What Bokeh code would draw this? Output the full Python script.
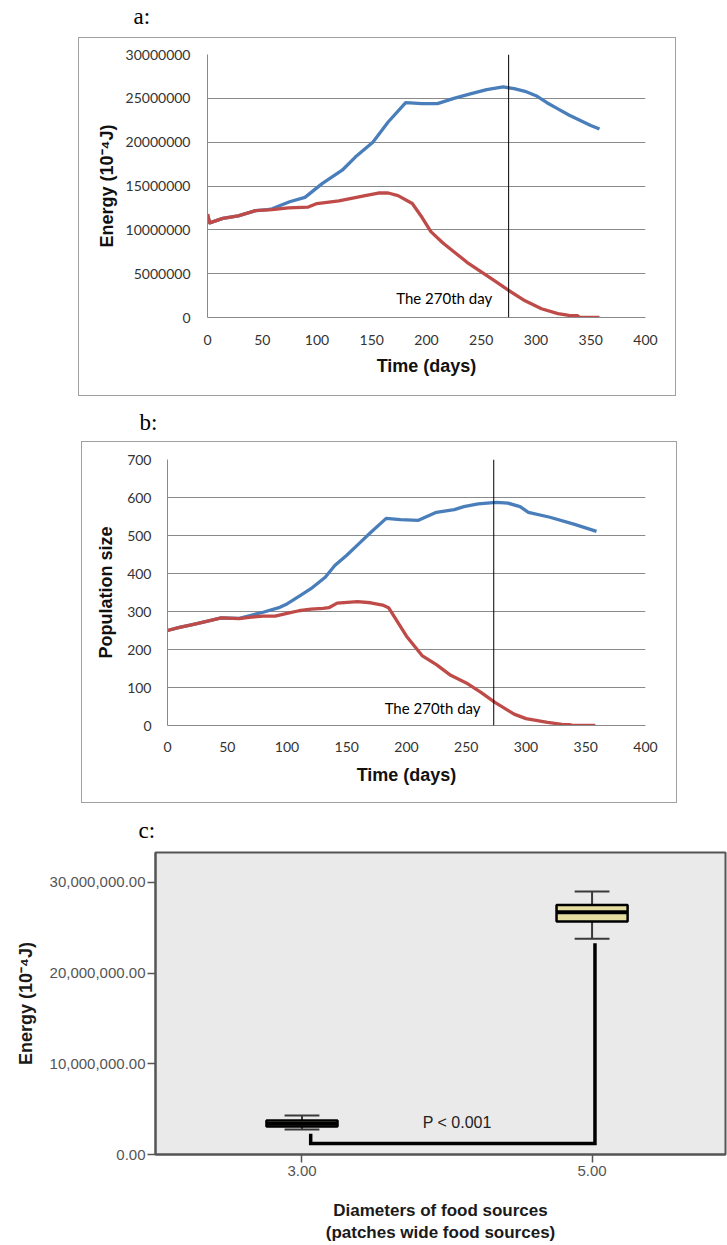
from bokeh.plotting import figure
from bokeh.layouts import column
from bokeh.models import Range1d, FixedTicker, NumeralTickFormatter, Span, Label
from bokeh.embed import file_html
from bokeh.resources import INLINE

# ---------------- data ----------------
# panel a: energy (10^-4 J) over time (days)
energy_blue_days = [0, 2, 14, 28, 44, 55, 59, 75, 89, 105, 123, 135, 151, 165, 181, 196, 210,
                    225, 240, 255, 270, 280, 290, 300, 310, 320, 330, 340, 350, 358]
energy_blue = [11.8e6, 10.8e6, 11.3e6, 11.6e6, 12.2e6, 12.3e6, 12.4e6, 13.2e6, 13.7e6, 15.3e6,
               16.8e6, 18.3e6, 20.0e6, 22.3e6, 24.5e6, 24.4e6, 24.4e6, 25.0e6, 25.5e6, 26.0e6,
               26.3e6, 26.1e6, 25.8e6, 25.3e6, 24.5e6, 23.8e6, 23.1e6, 22.5e6, 21.9e6, 21.5e6]
energy_red_days = [0, 2, 14, 28, 44, 59, 74, 92, 100, 120, 144, 156, 165, 174, 187, 196, 204,
                   215, 225, 237, 250, 262, 275, 290, 305, 320, 330, 338, 340, 358]
energy_red = [11.8e6, 10.8e6, 11.3e6, 11.6e6, 12.2e6, 12.3e6, 12.5e6, 12.6e6, 13.0e6, 13.3e6,
              13.9e6, 14.2e6, 14.2e6, 13.9e6, 13.0e6, 11.4e6, 9.8e6, 8.5e6, 7.5e6, 6.3e6,
              5.2e6, 4.2e6, 3.1e6, 1.9e6, 1.0e6, 0.45e6, 0.25e6, 0.2e6, 0.0, 0.0]

# panel b: population size over time (days)
pop_blue_days = [0, 10, 20, 30, 45, 60, 70, 80, 94, 100, 110, 120, 132, 140, 150, 160, 170, 183,
                 195, 210, 225, 240, 248, 260, 275, 285, 295, 302, 320, 340, 359]
pop_blue = [250, 258, 265, 272, 283, 282, 290, 298, 311, 320, 340, 360, 390, 421, 448, 478, 508,
            545, 542, 540, 561, 568, 576, 583, 587, 585, 576, 561, 548, 530, 511]
pop_red_days = [0, 10, 20, 30, 45, 60, 70, 80, 90, 100, 110, 120, 130, 135, 142, 159, 170, 180,
                185, 190, 200, 213, 225, 237, 250, 262, 274, 290, 300, 318, 330, 337, 340, 358]
pop_red = [250, 258, 265, 272, 283, 281, 285, 288, 288, 295, 302, 306, 308, 310, 322, 326, 323,
           317, 310, 285, 235, 184, 160, 132, 112, 88, 61, 30, 18, 8, 3, 2, 0, 0]

time_ticks = [0, 50, 100, 150, 200, 250, 300, 350, 400]
energy_ticks = [0, 5e6, 10e6, 15e6, 20e6, 25e6, 30e6]
pop_ticks = [0, 100, 200, 300, 400, 500, 600, 700]
event_day_a = 275
event_day_b = 273
event_label = "The 270th day"

# panel c: box plot of energy by food-source diameter
diameters = [3.0, 5.0]
diameter_ticks = [3.0, 5.0]
box_q1 = [3.1e6, 25.7e6]
box_median = [3.4e6, 26.7e6]
box_q3 = [3.75e6, 27.5e6]
whisker_low = [2.76e6, 23.8e6]
whisker_high = [4.3e6, 29.0e6]
c_ticks = [0, 10e6, 20e6, 30e6]
bracket_x = [3.06, 3.06, 5.02, 5.02]
bracket_y = [2.3e6, 1.2e6, 1.2e6, 23.3e6]
p_text = "P < 0.001"

BLUE = "#4A7EBB"
RED = "#BE4B48"
GRID = "#8a8a8a"
PAGE_W = 727
# panel frame: inset ring painted behind a transparent canvas (does not change layout size)
BOX_CSS = {"box-shadow": "inset 0 0 0 1px #a0a0a0", "background-color": "white"}


def label_fig(h, text, x, y):
    f = figure(width=PAGE_W, height=h, toolbar_location=None, output_backend="svg", title=None,
               x_range=Range1d(0, PAGE_W), y_range=Range1d(0, h), min_border=0)
    f.frame_align = False
    f.axis.visible = False
    f.grid.visible = False
    f.outline_line_color = None
    f.add_layout(Label(x=x, y=y, text=text, text_font="Liberation Serif", text_font_size="23px",
                       text_color="black", text_baseline="alphabetic", text_align="left"))
    return f


def style_time_plot(p, ylab):
    p.frame_align = False
    p.border_fill_color = None
    p.background_fill_color = None
    p.xgrid.grid_line_color = None
    p.ygrid.grid_line_color = GRID
    p.ygrid.grid_line_width = 1
    p.outline_line_color = None
    for ax in (p.xaxis[0], p.yaxis[0]):
        ax.axis_line_color = GRID
        ax.major_tick_out = 0
        ax.major_tick_in = 0
        ax.minor_tick_out = 0
        ax.minor_tick_in = 0
        ax.major_label_text_font = "Lato"
        ax.major_label_text_font_size = "14px"
        ax.major_label_text_color = "#333333"
        ax.axis_label_text_font = "Liberation Sans"
        ax.axis_label_text_font_style = "bold"
        ax.axis_label_text_font_size = "18px"
        ax.axis_label_text_color = "#111111"
    p.xaxis.axis_label = "Time (days)"
    p.yaxis.axis_label = ylab
    p.xaxis.ticker = FixedTicker(ticks=time_ticks)
    p.styles = BOX_CSS


# ---------------- panel a ----------------
pa = figure(width=598, height=359, toolbar_location=None, output_backend="svg", title=None,
            x_range=Range1d(0, 400), y_range=Range1d(0, 30e6),
            min_border_left=129, min_border_right=31, min_border_top=17, min_border_bottom=79)
style_time_plot(pa, "Energy (10⁻⁴J)")
pa.yaxis.ticker = FixedTicker(ticks=energy_ticks)
pa.yaxis.formatter = NumeralTickFormatter(format="0")
pa.yaxis.major_label_standoff = 17
pa.yaxis.axis_label_standoff = 6
pa.xaxis.major_label_standoff = 17
pa.xaxis.axis_label_standoff = 8
pa.line(energy_blue_days, energy_blue, line_color=BLUE, line_width=3.3, line_join="round")
pa.line(energy_red_days, energy_red, line_color=RED, line_width=3.3, line_join="round")
pa.add_layout(Span(location=event_day_a, dimension="height", line_color="black", line_width=1))
pa.add_layout(Label(x=260, y=2.2e6, text=event_label, text_font="Lato", text_font_size="15px",
                    text_color="black", text_align="right", text_baseline="middle"))
pa.margin = (0, 0, 0, 78)

# ---------------- panel b ----------------
pb = figure(width=596, height=362, toolbar_location=None, output_backend="svg", title=None,
            x_range=Range1d(0, 400), y_range=Range1d(0, 700),
            min_border_left=86, min_border_right=32, min_border_top=18, min_border_bottom=78)
style_time_plot(pb, "Population size")
pb.yaxis.ticker = FixedTicker(ticks=pop_ticks)
pb.yaxis.major_label_standoff = 16
pb.yaxis.axis_label_standoff = 8
pb.xaxis.major_label_standoff = 16
pb.xaxis.axis_label_standoff = 10
pb.line(pop_blue_days, pop_blue, line_color=BLUE, line_width=3.3, line_join="round")
pb.line(pop_red_days, pop_red, line_color=RED, line_width=3.3, line_join="round")
pb.add_layout(Span(location=event_day_b, dimension="height", line_color="black", line_width=1))
pb.add_layout(Label(x=262, y=45, text=event_label, text_font="Lato", text_font_size="15px",
                    text_color="black", text_align="right", text_baseline="middle"))
pb.margin = (0, 0, 0, 81)

# ---------------- panel c ----------------
pc = figure(width=PAGE_W, height=395, toolbar_location=None, output_backend="svg", title=None,
            x_range=Range1d(1.99, 5.92), y_range=Range1d(0, 33.3e6),
            min_border_left=155, min_border_right=2, min_border_top=2, min_border_bottom=91)
pc.frame_align = False
pc.grid.visible = False
pc.background_fill_color = "#EAEAEA"
pc.outline_line_color = "#555555"
pc.outline_line_width = 2
for ax in (pc.xaxis[0], pc.yaxis[0]):
    ax.axis_line_color = "#555555"
    ax.axis_line_width = 2
    ax.major_tick_line_color = "#555555"
    ax.major_tick_line_width = 1.5
    ax.major_tick_out = 8
    ax.major_tick_in = 0
    ax.minor_tick_out = 0
    ax.minor_tick_in = 0
    ax.major_label_text_font = "Liberation Sans"
    ax.major_label_text_font_size = "15px"
    ax.major_label_text_color = "#555555"
    ax.axis_label_text_font = "Liberation Sans"
    ax.axis_label_text_font_style = "bold"
    ax.axis_label_text_color = "#1a1a1a"
pc.yaxis.ticker = FixedTicker(ticks=c_ticks)
pc.yaxis.formatter = NumeralTickFormatter(format="0,0.00")
pc.yaxis.major_label_standoff = 2
pc.yaxis.axis_label = "Energy (10⁻⁴J)"
pc.yaxis.axis_label_text_font_size = "18px"
pc.yaxis.axis_label_standoff = 11
pc.xaxis.ticker = FixedTicker(ticks=diameter_ticks)
pc.xaxis.formatter = NumeralTickFormatter(format="0.00")
pc.xaxis.major_label_standoff = 3
pc.xaxis.axis_label = "Diameters of food sources\n(patches wide food sources)"
pc.xaxis.axis_label_text_font_size = "17px"
pc.xaxis.axis_label_standoff = 22

pc.segment(x0=diameters, y0=box_q3, x1=diameters, y1=whisker_high, line_color="#3a3a3a", line_width=2)
pc.segment(x0=diameters, y0=whisker_low, x1=diameters, y1=box_q1, line_color="#3a3a3a", line_width=2)
pc.vbar(x=diameters, width=0.49, bottom=box_q1, top=box_q3, fill_color="#E5DCA0",
        line_color="black", line_width=2.5)
pc.rect(x=diameters, y=box_median, width=0.49, height=4, height_units="screen",
        fill_color="black", line_color=None)
pc.rect(x=diameters, y=whisker_high, width=0.24, height=2, height_units="screen",
        fill_color="#3a3a3a", line_color=None)
pc.rect(x=diameters, y=whisker_low, width=0.24, height=2, height_units="screen",
        fill_color="#3a3a3a", line_color=None)
pc.line(bracket_x, bracket_y, line_color="black", line_width=3.5, line_join="miter")
pc.add_layout(Label(x=4.07, y=3.5e6, text=p_text, text_font="Liberation Sans", text_font_size="16px",
                    text_color="#222222", text_align="center", text_baseline="middle"))

la = label_fig(37, "a:", 133, 21)
lb = label_fig(45, "b:", 139, 19)
lc = label_fig(47, "c:", 138, 20)

layout = column(la, pa, lb, pb, lc, pc, spacing=0)
open("out.html", "w").write(file_html(layout, INLINE))
